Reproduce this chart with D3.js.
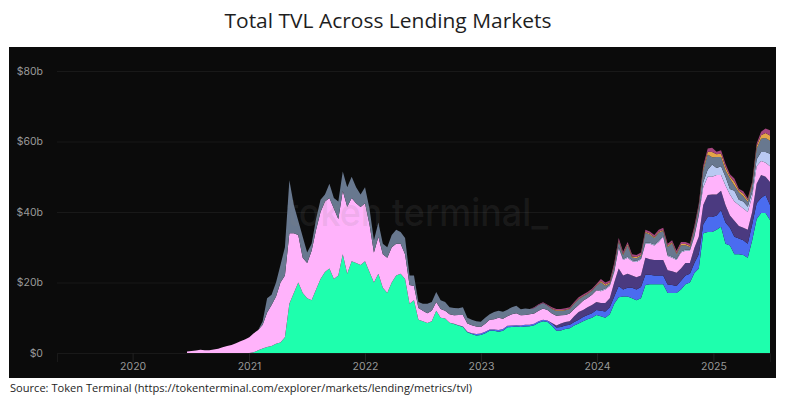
<!DOCTYPE html>
<html>
<head>
<meta charset="utf-8">
<script src="https://cdn.jsdelivr.net/npm/d3@7"></script>
<style>
  html, body { margin: 0; padding: 0; background: #fff; }
  svg { display: block; }
</style>
</head>
<body>
<svg id="chart" width="785" height="404"></svg>
<script>
var titleText = 'Total TVL Across Lending Markets',
    sourceText = 'Source: Token Terminal (https://tokenterminal.com/explorer/markets/lending/metrics/tvl)',
    watermarkText = 'token terminal_';

var yTicks = [0, 20, 40, 60, 80],
    xTicks = [2020, 2021, 2022, 2023, 2024, 2025];

// one sample every two weeks from 20 Jun 2020, $b per layer, bottom layer first
var firstSample = Date.UTC(2020, 5, 20),
    sampleDays = 14;

var green = [0,0,0,0,0,0,0,0,0,0,0,0,0,0,0,.2,.8,1.3,1.7,2,2.6,3,4.5,14,17,20,17,15.5,15,18,21,23,24,21,22,28,22.5,26,25.5,25,26,23,20,22.5,18.5,17,20,22,22.5,21,14,15,9.4,9,8.5,9,12,10,9.8,
    8.6,8.2,7.8,7.4,5.9,5.4,5,5.1,5.6,6.3,6.3,6,6.3,7.3,7.4,7.5,7.4,7.5,7.6,7.9,8.6,9,8.8,7.7,6.3,6.4,6.8,7,7.8,8.4,9,9.6,10,10.8,10.4,10,11,14,15.8,16,16,15.5,15,15.5,19.3,19.5,19.5,19.5,19.5,17,17,17,18,19.5,20,22.7,24,34,34.3,34.3,35,35.8,31,30.5,28,28,27.8,27,32,38,39.7,39.7,37.7];

var blue = [0,0,0,0,0,0,0,0,0,0,0,0,0,0,0,0,0,0,0,0,0,0,0,0,0,0,0,0,0,0,0,0,0,0,0,0,0,0,0,0,0,0,0,0,0,0,0,0,0,0,0,0,0,0,0,0,0,0,0,
    0,.1,.1,.1,.1,.2,.4,.4,.4,.4,.4,.5,.5,.4,.4,.4,.4,.5,.4,.4,.4,.4,.4,.7,.9,1,1,1,1,1,1.2,1.2,1.3,1.4,1.6,1.8,2,2,3.2,2,2.5,3,3,3.2,2.9,2.7,2.5,2.5,2.5,2.4,2.3,2,2.5,2.5,2.5,2.8,4,2.5,4.3,4.3,4,4.7,6,5,5,4.5,4.2,4,4.5,4.5,4.3,5.1,4.3];

var purple = [0,0,0,0,0,0,0,0,0,0,0,0,0,0,0,0,0,0,0,0,0,0,0,0,0,0,0,0,0,0,0,0,0,0,0,0,0,0,0,0,0,0,0,0,0,0,0,0,0,0,0,0,0,0,0,0,0,0,0,
    0,0,0,0,0,0,0,0,0,0,0,0,0,0,0,0,0,0,0,0,0,0,0,.1,.6,1,1,1,1.6,2.2,2,2.2,2.3,2.3,2.2,2.4,2.5,4,5,4,4,3.5,3.5,3.3,4.8,4.4,4.4,4.4,4.4,4.1,3.9,3.8,3.5,3.5,3,4.3,5,5.5,6.2,6.4,6,5.5,5,3.5,4.5,3.5,3.5,4,3.5,5.5,6.5,5.2,6.5];

var pink = [.4,.6,.7,.9,.8,.8,1,1.2,1.6,2,2.3,2.8,3.3,3.8,4.5,5.4,5.7,6.7,9.8,11.6,13.4,17,17.5,20,17,13.5,10,10,14,17,19,20,20,20,16,18,19,18,17,16.4,16.5,13.5,8.5,10.5,9.5,10,10,9,8.5,7,5.3,4,3.4,3,2.8,3,2.5,2.5,2.2,
    2.4,2.4,2.9,3.3,2.4,2.3,2.1,1.9,2.3,2.7,2.9,3.5,2.9,2.7,3.2,3.4,2.9,2.8,3,2.9,3,3.2,3,2.7,2.8,2.3,2,2.2,2.1,2,2.6,2.6,2.9,3.3,3.3,3.8,3.5,3,5.8,4.4,4.5,4,4.3,4.5,4,4.4,4.1,5.1,6.6,4,3.8,3.6,4.5,3.5,3.5,3.2,6,5,5.2,5,5.5,4.5,5.5,6,5.5,6,5.5,5,4.5,5,4,4,4.5];

var lightBlue = [0,0,0,0,0,0,0,0,0,0,0,0,0,0,0,0,0,0,0,0,0,0,0,0,0,0,0,0,0,0,0,0,0,0,0,0,0,0,0,0,0,0,0,0,0,0,0,0,0,0,0,0,0,0,0,0,0,0,0,
    0,0,0,0,0,0,0,0,0,0,0,0,0,0,0,0,0,0,0,0,0,0,0,0,0,0,0,0,0,0,0,0,0,0,.3,.3,.3,.3,.3,.3,.3,.3,.3,.3,.3,.3,.3,.3,.3,.3,.3,.3,.3,.3,.3,.3,.3,1.5,2,3.5,2,2.5,2.5,1.5,3,1.5,2,1.5,1.2,2,2.5,3,3.5,3.5];

var slate = [0,0,0,0,0,0,0,0,0,0,0,0,0,0,0,0,0,1,4,2.9,4,5,8,15,8,4,6,3,2,3,3.5,2,4,3,5,5.5,5.5,6,4.5,3.6,4.5,4.5,3.5,4,3,3,3.5,4,3.3,4.6,2.7,3,1.7,2,2.7,2.5,2.8,2.5,2.5,
    2,2.1,1.9,2.2,1.6,1.5,1.5,1.5,1.7,1.6,2,2,2,1.9,2,2.1,1.7,1.8,1.5,1.6,1.6,1.6,1.3,1.25,1.35,1.25,1.35,1.25,1.45,1.65,1.25,1.15,1.15,1.25,2.3,.8,.4,1.3,1.6,1.1,3.3,.8,.8,.8,2.8,2.3,1.8,2.3,1.3,2.3,3.8,1.4,1.8,1.3,.8,1.8,2.2,3.3,4.3,2,3.1,2.6,1.8,3,1.5,2.1,1.5,1.4,2.1,3,3.8,4,3.7];

var orange = [0,0,0,0,0,0,0,0,0,0,0,0,0,0,0,0,0,0,0,0,0,0,0,0,0,0,0,0,0,0,0,0,0,0,0,0,0,0,0,0,0,0,0,0,0,0,0,0,0,0,0,0,0,0,0,0,0,0,0,
    0,0,0,0,0,0,0,0,0,0,0,0,0,0,0,0,0,0,0,0,0,0,0,.15,.15,.15,.15,.15,.15,.15,.15,.15,.15,.15,.3,.3,.3,.3,.3,.3,.3,.3,.3,.3,.3,.3,.3,.3,.3,.3,.3,.3,.3,.3,.3,.3,.3,.6,.8,1.5,.8,1,1,.6,1,.5,.7,.5,.4,.7,1,1.4,1.5,1.5];

var magenta = [0,0,0,0,0,0,0,0,0,0,0,0,0,0,0,0,0,0,0,0,0,0,0,0,0,0,0,0,0,0,0,0,0,0,0,0,0,0,0,0,0,0,0,0,0,0,0,0,0,0,0,0,0,0,0,0,0,0,0,
    0,0,0,0,0,0,0,0,0,0,0,0,0,0,0,0,0,0,0,.2,.2,.2,.2,.4,.4,.4,.4,.4,.4,.4,.4,.4,.4,.4,.6,.6,.6,.6,.6,.6,.6,.6,.6,.6,.6,.6,.6,.6,.6,.6,.6,.6,.6,.6,.6,.6,.6,.7,.9,1.2,.7,.9,.9,.6,1,.5,.7,.5,.4,.7,1,1.3,1.5,1.3];

var layers = [
    { key: 'green', values: green, color: '#1effad' },
    { key: 'blue', values: blue, color: '#4a6cf0' },
    { key: 'purple', values: purple, color: '#4b3a80' },
    { key: 'pink', values: pink, color: '#ffb3fb' },
    { key: 'lightBlue', values: lightBlue, color: '#b9c9f2' },
    { key: 'slate', values: slate, color: '#68788f' },
    { key: 'orange', values: orange, color: '#e3a548' },
    { key: 'magenta', values: magenta, color: '#a5457f' }
];

var svg = d3.select('#chart');

var panel = { left: 9, right: 776, top: 47, bottom: 378 },
    plot = { left: 57, right: 770, top: 71, bottom: 353 };

var x = d3.scaleUtc()
    .domain([Date.UTC(2019, 4, 8), Date.UTC(2025, 5, 28)])
    .range([plot.left, plot.right]);

var y = d3.scaleLinear()
    .domain([0, 80])
    .range([plot.bottom, plot.top]);

svg.append('text')
    .attr('x', 388)
    .attr('y', 28)
    .attr('text-anchor', 'middle')
    .attr('textLength', 327)
    .attr('lengthAdjust', 'spacingAndGlyphs')
    .style('font', '20px "Open Sans"')
    .style('fill', '#1e1e1e')
    .text(titleText);

svg.append('rect')
    .attr('x', panel.left)
    .attr('y', panel.top)
    .attr('width', panel.right - panel.left)
    .attr('height', panel.bottom - panel.top)
    .attr('fill', '#0b0b0b');

var yAxis = d3.axisLeft(y)
    .tickValues(yTicks)
    .tickSize(plot.left - plot.right)
    .tickPadding(14)
    .tickFormat(function(d) { return '$' + d + (d ? 'b' : ''); });

var yGroup = svg.append('g')
    .attr('transform', 'translate(' + plot.left + ',0)')
    .call(yAxis);
yGroup.select('.domain').remove();
yGroup.selectAll('line').attr('stroke', '#191919');
yGroup.selectAll('text')
    .style('font', '10.5px Inter')
    .style('fill', '#999');

var rows = green.map(function(d, i) {
    var row = { date: d3.utcDay.offset(firstSample, i * sampleDays) };
    layers.forEach(function(layer) { row[layer.key] = layer.values[i]; });
    return row;
});

var stack = d3.stack().keys(layers.map(function(l) { return l.key; }));

var area = d3.area()
    .x(function(d) { return x(d.data.date); })
    .y0(function(d) { return y(d[0]); })
    .y1(function(d) { return y(d[1]); });

svg.append('g')
    .selectAll('path')
    .data(stack(rows))
    .join('path')
    .attr('d', area)
    .attr('fill', function(d, i) { return layers[i].color; });

// watermark sits over the areas, faint enough to only just show on them
svg.append('text')
    .attr('x', 287)
    .attr('y', 226)
    .attr('textLength', 261)
    .attr('lengthAdjust', 'spacingAndGlyphs')
    .style('font', '500 38px Inter')
    .style('fill', '#808080')
    .style('fill-opacity', 0.14)
    .text(watermarkText);

var xAxis = d3.axisBottom(x)
    .tickValues(xTicks.map(function(yr) { return new Date(Date.UTC(yr, 0, 1)); }))
    .tickSize(9)
    .tickPadding(1)
    .tickFormat(d3.utcFormat('%Y'));

var xGroup = svg.append('g')
    .attr('transform', 'translate(0,' + plot.bottom + ')')
    .call(xAxis);
xGroup.select('.domain').attr('stroke', '#191919');
xGroup.selectAll('line').attr('stroke', '#222');
xGroup.selectAll('text')
    .style('font', '10.5px Inter')
    .style('fill', '#999');

svg.append('text')
    .attr('x', 10)
    .attr('y', 392)
    .attr('textLength', 462)
    .attr('lengthAdjust', 'spacingAndGlyphs')
    .style('font', '11px "Open Sans"')
    .style('fill', '#1e1e1e')
    .text(sourceText);
</script>
</body>
</html>
